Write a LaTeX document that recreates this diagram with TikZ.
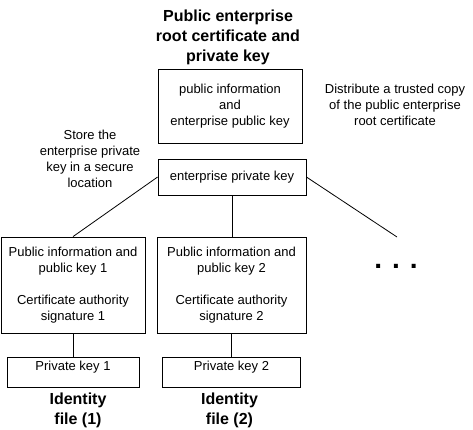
\documentclass[tikz,border=0pt]{standalone}
\usepackage{fontspec}
\setmainfont{Liberation Sans}
\begin{document}
\begin{tikzpicture}
[x=1pt,y=-1pt,%
  boxDecorate/.style={shape=rectangle,draw,line width=0.8pt,align=center,inner sep=2pt,%
    font=\fontsize{13}{16}\selectfont},%
  noteDecorate/.style={align=center,inner sep=0pt,font=\fontsize{13}{16}\selectfont},%
  titleDecorate/.style={align=center,inner sep=0pt,font=\fontsize{16}{20}\selectfont\bfseries},%
  lineDecorate/.style={-,line width=0.8pt}]
\useasboundingbox (0,0) rectangle (473,430);
%% enterprise root certificate
\node (title) at (228,37.5) [titleDecorate]
  {Public enterprise\\root certificate and\\private key};
\node (pub) at (230,106) [boxDecorate,minimum width=144pt,minimum height=74pt]
  {public information\\and\\enterprise public key};
\node (epk) at (232,177) [boxDecorate,minimum width=148pt,minimum height=36pt]
  {enterprise private key};
\node (store) at (90,159) [noteDecorate]
  {Store the\\enterprise private\\key in a secure\\location};
\node (distribute) at (395,104.5) [noteDecorate]
  {Distribute a trusted copy\\of the public enterprise\\root certificate};
%% identity files
\foreach \n/\x/\w/\v/\l in {1/73/144/132/78, 2/231.5/149/138/229.5}
{
  \node (cert\n) at (\x,285) [boxDecorate,minimum width=\w pt,minimum height=96pt]
    {Public information and\\public key \n\\[16pt]Certificate authority\\signature \n};
  \node (priv\n) at (\x,372) [boxDecorate,minimum width=\v pt,minimum height=30pt,text depth=12pt]
    {Private key \n};
  \node (id\n) at (\l,410.5) [titleDecorate] {Identity\\file (\n)};
}
\node (more) at (396,268) [anchor=base,inner sep=0pt,font=\fontsize{28}{28}\selectfont\bfseries]
  {.\hspace{10pt}.\hspace{10pt}.};
\coordinate (moretop) at (397,237);
%% edges or lines
\path
\foreach \startnode/\endnode in {epk.west/cert1.north, epk.east/moretop,
  cert1.south/priv1.north, cert2.south/priv2.north}
{
  (\startnode) edge[lineDecorate] (\endnode)
};
\draw[lineDecorate] (epk.south) -- (epk.south |- cert2.north);
\end{tikzpicture}
\end{document}
